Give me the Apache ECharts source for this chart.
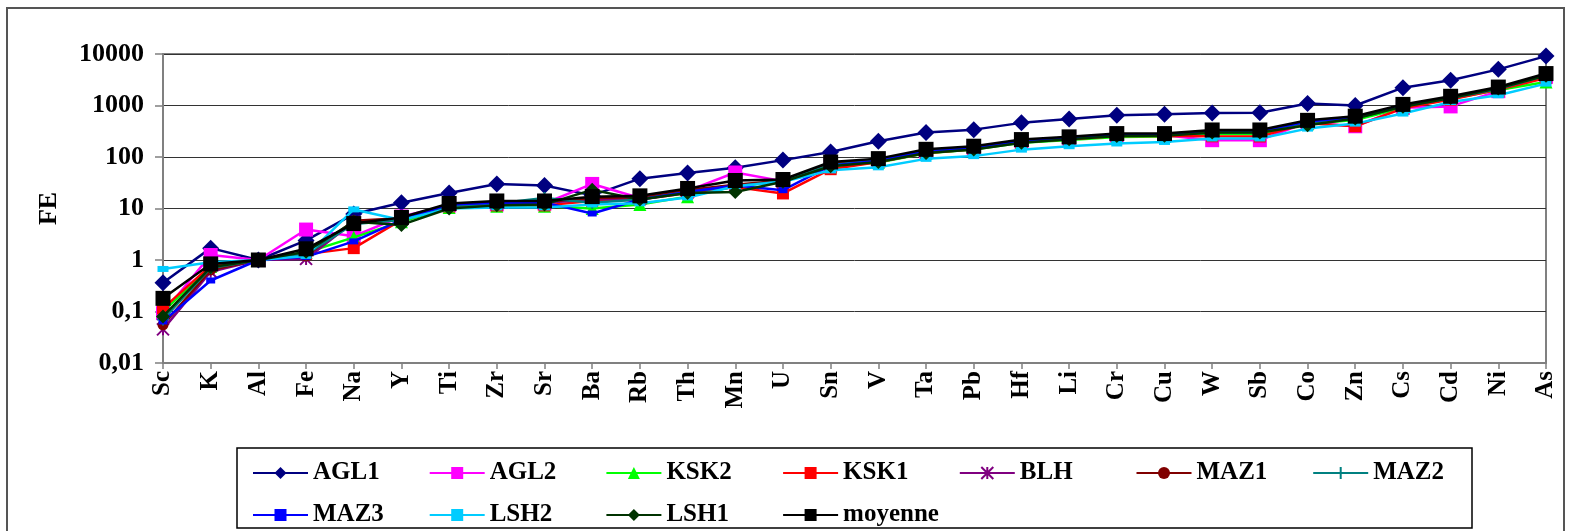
<!DOCTYPE html>
<html><head><meta charset="utf-8">
<script src="https://cdn.jsdelivr.net/npm/echarts@6/dist/echarts.min.js"></script>
<style>html,body{margin:0;padding:0;background:#fff}#c{width:1570px;height:531px}</style>
</head><body><div id="c"></div>
<script>
const categories = ['Sc','K','Al','Fe','Na','Y','Ti','Zr','Sr','Ba','Rb','Th','Mn','U','Sn','V','Ta','Pb','Hf','Li','Cr','Cu','W','Sb','Co','Zn','Cs','Cd','Ni','As'];
const yTickLabels = ['0,01','0,1','1','10','100','1000','10000'];

const AGL1 = [0.36,1.7,1,2.4,7.8,12.9,20,30,28,18,38,49,62,87,125,203,300,340,460,545,645,675,716,725,1090,1000,2220,3080,5030,9100];
const AGL2 = [0.093,1.25,1,3.9,2.9,7,11.5,12,12.5,30,16,22,50,34,72,86,128,150,200,228,262,265,212,212,470,395,900,960,1900,3600];
const KSK2 = [0.1,0.75,1,1.4,2.75,5.5,10.5,11,11,10,12,17,27,34,65,78,118,140,190,215,245,250,280,280,440,520,900,1350,2000,2860];
const KSK1 = [0.115,0.78,1,1.3,1.7,6,11,11.5,11.5,14,15,20,26,19.6,58,80,120,142,195,220,255,260,252,250,450,395,880,1300,2050,3400];
const BLH  = [0.045,0.59,1,1.05,5.5,6.5,12,13,13,15,16,22,28,34,72,88,132,152,205,235,270,275,310,305,480,580,1000,1400,2150,3900];
const MAZ1 = [0.055,0.64,1,1.2,5.8,6.5,12,13,13.5,16,16.5,23,29,35,74,90,135,155,210,240,275,280,320,315,490,590,1000,1450,2200,4000];
const MAZ2 = [0.07,0.7,1,1.3,5,6,11,12.5,16,13,15,21,27,34,70,86,130,150,205,235,265,270,300,300,470,570,960,1400,2100,3800];
const MAZ3 = [0.064,0.40,1,1.15,2.3,6,12,13,13,8,15,21,28,22.7,68,85,128,148,205,235,270,275,320,320,490,590,990,1450,2200,3950];
const LSH2 = [0.67,0.9,1,1.2,9.6,6,10,10.5,10.5,12,12.6,16.4,27,33,55,63,92,104,139,162,183,196,229,229,356,445,697,1170,1580,2660];
const LSH1 = [0.08,0.72,1,1.45,5.5,4.8,10,11.5,12,23,15,20,21,33,66,80,120,140,190,220,255,260,300,300,415,560,950,1400,2150,3800];
const moyenne = [0.18,0.84,1,1.65,5.1,6.7,12.5,14,14,17,17.6,24.5,35,36.6,80,93,141,162,218,246,285,285,335,335,515,620,1050,1510,2280,4170];

const FONT = '"Liberation Serif","Times New Roman",serif';
const STAR = 'path://M0,0L10,10M10,0L0,10M5,0L5,10';
const PLUS = 'path://M5,0L5,10M0,5L10,5';

const defs = [
  {name:'AGL1', data:AGL1, color:'#000080', symbol:'diamond', size:17},
  {name:'AGL2', data:AGL2, color:'#FF00FF', symbol:'rect', size:14},
  {name:'KSK2', data:KSK2, color:'#00FF00', symbol:'triangle', size:13},
  {name:'KSK1', data:KSK1, color:'#FF0000', symbol:'rect', size:12},
  {name:'BLH', data:BLH, color:'#800080', symbol:STAR, size:12, stroke:true},
  {name:'MAZ1', data:MAZ1, color:'#800000', symbol:'circle', size:11},
  {name:'MAZ2', data:MAZ2, color:'#008080', symbol:PLUS, size:12, stroke:true},
  {name:'MAZ3', data:MAZ3, color:'#0000FF', symbol:'rect', size:[9,6]},
  {name:'LSH2', data:LSH2, color:'#00CCFF', symbol:'rect', size:[11,6]},
  {name:'LSH1', data:LSH1, color:'#003300', symbol:'diamond', size:14},
  {name:'moyenne', data:moyenne, color:'#000000', symbol:'rect', size:15}
];

const series = defs.map((d,i) => ({
  name:d.name, type:'line', data:d.data, symbol:d.symbol, symbolSize:d.size,
  showAllSymbol:true, z: 2+i,
  lineStyle:{color:d.color, width:2.5},
  itemStyle: d.stroke ? {color:d.color, borderColor:d.color, borderWidth:2} : {color:d.color, borderWidth:0},
  emphasis:{disabled:true}
}));

const legendOrder = [['AGL1','AGL2','KSK2','KSK1','BLH','MAZ1','MAZ2'],['MAZ3','LSH2','LSH1','moyenne']];
const legends = [];
legendOrder.forEach((row,r) => row.forEach((nm,k) => {
  legends.push({
    data:[nm], left: 247 + k*176.7, top: (r===0?468:510) - 13,
    itemWidth:55, itemHeight:15, selectedMode:false,
    textStyle:{fontFamily:FONT, fontWeight:'bold', fontSize:25, color:'#000', lineHeight:26}
  });
}));

const chart = echarts.init(document.getElementById('c'), null, {renderer:'canvas'});
chart.setOption({
  animation:false,
  backgroundColor:'#fff',
  grid:{left:163, right:24, top:54, bottom:168, show:true, borderColor:'#808080', borderWidth:2, backgroundColor:'transparent'},
  xAxis:{
    type:'category', data:categories, boundaryGap:false,
    axisLine:{lineStyle:{color:'#808080', width:2}},
    axisTick:{show:true, length:6, interval:0, lineStyle:{color:'#808080', width:1.5}},
    axisLabel:{rotate:90, interval:0, margin:8, fontFamily:FONT, fontWeight:'bold', fontSize:25, color:'#000'}
  },
  yAxis:{
    type:'log', logBase:10, min:0.01, max:10000,
    name:'FE', nameLocation:'middle', nameGap:101, nameRotate:90,
    nameTextStyle:{fontFamily:FONT, fontWeight:'bold', fontSize:26, color:'#000'},
    axisLine:{show:true, lineStyle:{color:'#808080', width:2}},
    axisTick:{show:true, length:8, lineStyle:{color:'#808080', width:1.5}},
    axisLabel:{margin:19, fontFamily:FONT, fontWeight:'bold', fontSize:26, color:'#000',
      formatter: v => yTickLabels[Math.round(Math.log10(v)) + 2]},
    splitLine:{show:true, lineStyle:{color:'#333', width:1}}
  },
  legend: legends,
  graphic:[
    {type:'rect', shape:{x:7, y:8, width:1557, height:600}, style:{fill:'none', stroke:'#555', lineWidth:2}, silent:true, z:-1},
    {type:'rect', shape:{x:237, y:448, width:1235, height:80}, style:{fill:'none', stroke:'#000', lineWidth:1.5}, silent:true}
  ],
  series: series
});
</script>
</body></html>
